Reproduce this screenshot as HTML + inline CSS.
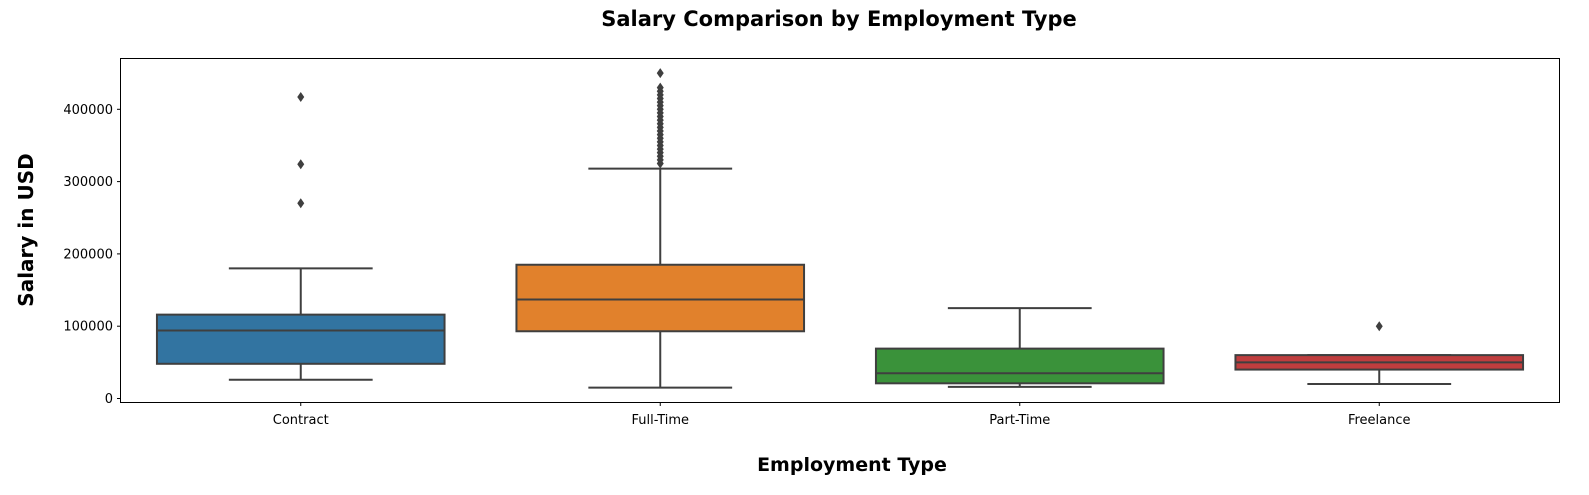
<!DOCTYPE html>
<html><head><meta charset="utf-8"><style>
body{margin:0;background:#fff;}
svg text{font-family:"DejaVu Sans","Liberation Sans",sans-serif;}
</style></head><body>
<svg id="chart" width="1589" height="490" xmlns="http://www.w3.org/2000/svg">
<text x="839" y="26" font-size="21" font-weight="bold" text-anchor="middle">Salary Comparison by Employment Type</text>
<text x="852" y="471" font-size="19" font-weight="bold" text-anchor="middle">Employment Type</text>
<text transform="translate(33,230) rotate(-90)" font-size="20" font-weight="bold" text-anchor="middle">Salary in USD</text>
<g id="plot"></g>
<rect x="120.5" y="58.5" width="1439" height="344" fill="none" stroke="#000" stroke-width="1"/>
</svg>
<script>
const categories=["Contract","Full-Time","Part-Time","Freelance"];
const colors=["#3274a1","#e1812c","#3a923a","#c03d3e"];
const q1=[48000,93000,21000,40000];
const medians=[94000,137000,35000,50000];
const q3=[116000,185000,69000,60000];
const whiskLo=[26000,15000,16000,20000];
const whiskHi=[180000,318000,125000,60000];
const outliers=[[270000,324000,417000],[325000,330000,335000,340000,345000,350000,355000,360000,365000,370000,375000,380000,385000,390000,395000,400000,405000,410000,415000,420000,425000,430000,450000],[],[100000]];
const yTicks=[0,100000,200000,300000,400000];
const L=121,R=1559,T=58,B=402;
function y(v){return 398.5-v*0.000723;}
function xc(i){return L+(R-L)/categories.length*(i+0.5);}
const bw=(R-L)/categories.length*0.8;
const g=document.getElementById('plot');
const NS="http://www.w3.org/2000/svg";
function mk(tag,attrs){const e=document.createElementNS(NS,tag);for(const k in attrs)e.setAttribute(k,attrs[k]);g.appendChild(e);return e;}
yTicks.forEach(t=>{
 const ln=mk('line',{x1:L-4,x2:L,y1:y(t),y2:y(t),stroke:'#000'});
 
 
 const tx=mk('text',{x:L-8,y:y(t)+4.5,'font-size':13,'text-anchor':'end'});
 tx.textContent=t;
 
 
});
categories.forEach((c,i)=>{
 const x=xc(i);
 const tk=mk('line',{x1:x,x2:x,y1:B,y2:B+4,stroke:'#000'});
 
 
 const tl=mk('text',{x:x,y:B+22,'font-size':13,'text-anchor':'middle'});
 tl.textContent=c;
 
 
 const st={stroke:'#3f3f3f','stroke-width':2};
 const w1=mk('line',Object.assign({x1:x,x2:x,y1:y(q3[i]),y2:y(whiskHi[i])},st));
 
 
 const w2=mk('line',Object.assign({x1:x,x2:x,y1:y(q1[i]),y2:y(whiskLo[i])},st));
 
 
 const c1=mk('line',Object.assign({x1:x-bw/4,x2:x+bw/4,y1:y(whiskHi[i]),y2:y(whiskHi[i])},st));
 
 
 const c2=mk('line',Object.assign({x1:x-bw/4,x2:x+bw/4,y1:y(whiskLo[i]),y2:y(whiskLo[i])},st));
 
 
 const bx=mk('rect',Object.assign({x:x-bw/2,y:y(q3[i]),width:bw,height:y(q1[i])-y(q3[i]),fill:colors[i]},st));
 
 
 const md=mk('line',Object.assign({x1:x-bw/2,x2:x+bw/2,y1:y(medians[i]),y2:y(medians[i])},st));
 
 
 outliers[i].forEach(v=>{
  const yy=y(v);
  const p=mk('polygon',{points:`${x},${yy-5} ${x+3.5},${yy} ${x},${yy+5} ${x-3.5},${yy}`,fill:'#3f3f3f'});
  
  
 });
});
</script>
</body></html>
